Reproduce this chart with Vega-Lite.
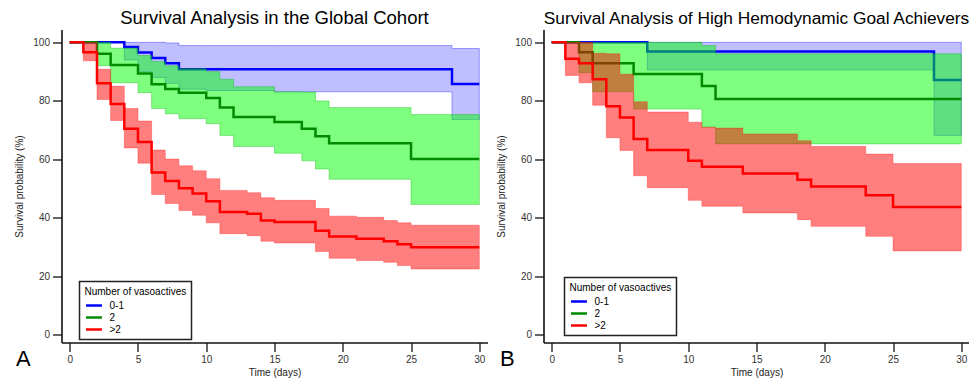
{
  "$schema": "https://vega.github.io/schema/vega-lite/v6.json",
  "padding": {"left": 14.5, "top": 8.5, "right": 0, "bottom": 0},
  "spacing": 9,
  "resolve": {"scale": {"color": "independent"}},
  "config": {
    "font": "Liberation Sans",
    "view": {"stroke": null},
    "axis": {"domainColor": "#111", "domainWidth": 1.6, "tickColor": "#333", "tickWidth": 1.5, "labelColor": "#333", "labelFontSize": 10, "titleFontSize": 10, "titleFontWeight": "normal", "titleColor": "#222", "grid": false, "labelPadding": 3, "labelFlush": false},
    "title": {"fontSize": 18.5, "fontWeight": "normal", "color": "#000", "anchor": "middle", "offset": 2},
    "legend": {"strokeColor": "#222", "strokeWidth": 1.5, "fillColor": "white", "padding": 5, "titleFontSize": 10, "titleFontWeight": "normal", "titleColor": "#000", "labelFontSize": 10, "labelColor": "#000", "rowPadding": 0, "titlePadding": 2, "labelOffset": 11, "symbolSize": 121, "symbolStrokeWidth": 2.5, "symbolOpacity": 1}
  },
  "datasets": {
    "global": [
      {"g": "0-1", "t": 0, "s": 100, "lo": 100, "hi": 100},
      {"g": "0-1", "t": 4, "s": 98.4, "lo": 94, "hi": 100},
      {"g": "0-1", "t": 5, "s": 96.5, "lo": 90, "hi": 100},
      {"g": "0-1", "t": 6, "s": 94.7, "lo": 88, "hi": 100},
      {"g": "0-1", "t": 7, "s": 92.9, "lo": 86, "hi": 99.8},
      {"g": "0-1", "t": 8, "s": 90.8, "lo": 84, "hi": 98.9},
      {"g": "0-1", "t": 10, "s": 90.8, "lo": 83.5, "hi": 98.9},
      {"g": "0-1", "t": 15, "s": 90.8, "lo": 83.1, "hi": 98.9},
      {"g": "0-1", "t": 28, "s": 85.8, "lo": 73.6, "hi": 97.9},
      {"g": "0-1", "t": 30, "s": 85.8, "lo": 73.6, "hi": 97.9},
      {"g": "2", "t": 0, "s": 100, "lo": 100, "hi": 100},
      {"g": "2", "t": 2, "s": 96.1, "lo": 92, "hi": 100},
      {"g": "2", "t": 3, "s": 92.3, "lo": 86.2, "hi": 98},
      {"g": "2", "t": 5, "s": 89.4, "lo": 82.8, "hi": 95.5},
      {"g": "2", "t": 6, "s": 85.7, "lo": 77.4, "hi": 93.5},
      {"g": "2", "t": 7, "s": 84.1, "lo": 75.6, "hi": 92},
      {"g": "2", "t": 8, "s": 82.8, "lo": 73.9, "hi": 91},
      {"g": "2", "t": 10, "s": 81, "lo": 72.2, "hi": 90},
      {"g": "2", "t": 11, "s": 77.7, "lo": 68.2, "hi": 87.4},
      {"g": "2", "t": 12, "s": 74.5, "lo": 64.4, "hi": 84.8},
      {"g": "2", "t": 15, "s": 72.8, "lo": 62.1, "hi": 83.1},
      {"g": "2", "t": 17, "s": 70.5, "lo": 59.5, "hi": 83},
      {"g": "2", "t": 18, "s": 67.9, "lo": 56.7, "hi": 80},
      {"g": "2", "t": 19, "s": 65.5, "lo": 53.2, "hi": 77.7},
      {"g": "2", "t": 25, "s": 60.1, "lo": 44.6, "hi": 75.3},
      {"g": "2", "t": 30, "s": 60.1, "lo": 44.6, "hi": 75.3},
      {"g": ">2", "t": 0, "s": 100, "lo": 100, "hi": 100},
      {"g": ">2", "t": 1, "s": 96.6, "lo": 93.7, "hi": 100},
      {"g": ">2", "t": 2, "s": 86, "lo": 80.5, "hi": 90.8},
      {"g": ">2", "t": 3, "s": 78.9, "lo": 73.3, "hi": 85},
      {"g": ">2", "t": 4, "s": 70.5, "lo": 63.9, "hi": 77.4},
      {"g": ">2", "t": 5, "s": 65.9, "lo": 58.7, "hi": 73.1},
      {"g": ">2", "t": 6, "s": 55.5, "lo": 48, "hi": 63.2},
      {"g": ">2", "t": 7, "s": 52.6, "lo": 44.9, "hi": 60.1},
      {"g": ">2", "t": 8, "s": 50.1, "lo": 42.5, "hi": 57.8},
      {"g": ">2", "t": 9, "s": 48.3, "lo": 40.9, "hi": 56.1},
      {"g": ">2", "t": 10, "s": 45.7, "lo": 38.3, "hi": 53.4},
      {"g": ">2", "t": 11, "s": 42, "lo": 34.6, "hi": 49.4},
      {"g": ">2", "t": 13, "s": 41.4, "lo": 33.9, "hi": 48.6},
      {"g": ">2", "t": 14, "s": 39.1, "lo": 32, "hi": 46.9},
      {"g": ">2", "t": 15, "s": 38.6, "lo": 31.4, "hi": 46},
      {"g": ">2", "t": 18, "s": 35.6, "lo": 28.5, "hi": 43.2},
      {"g": ">2", "t": 19, "s": 33.6, "lo": 26.2, "hi": 40.6},
      {"g": ">2", "t": 21, "s": 32.9, "lo": 25.4, "hi": 40.2},
      {"g": ">2", "t": 23, "s": 32, "lo": 24.8, "hi": 39.1},
      {"g": ">2", "t": 24, "s": 31, "lo": 23.7, "hi": 38.3},
      {"g": ">2", "t": 25, "s": 30, "lo": 22.5, "hi": 37.5},
      {"g": ">2", "t": 30, "s": 30, "lo": 22.5, "hi": 37.5}
    ],
    "hemo": [
      {"g": "0-1", "t": 0, "s": 100, "lo": 100, "hi": 100},
      {"g": "0-1", "t": 7, "s": 96.9, "lo": 90.6, "hi": 100},
      {"g": "0-1", "t": 28, "s": 87.1, "lo": 68.2, "hi": 100},
      {"g": "0-1", "t": 30, "s": 87.1, "lo": 68.2, "hi": 100},
      {"g": "2", "t": 0, "s": 100, "lo": 100, "hi": 100},
      {"g": "2", "t": 2, "s": 96.6, "lo": 89.6, "hi": 100},
      {"g": "2", "t": 3, "s": 92.9, "lo": 83.1, "hi": 100},
      {"g": "2", "t": 6, "s": 89.2, "lo": 77.2, "hi": 100},
      {"g": "2", "t": 11, "s": 85.1, "lo": 71, "hi": 98.9},
      {"g": "2", "t": 12, "s": 80.6, "lo": 65.3, "hi": 96.1},
      {"g": "2", "t": 30, "s": 80.6, "lo": 65.3, "hi": 96.1},
      {"g": ">2", "t": 0, "s": 100, "lo": 100, "hi": 100},
      {"g": ">2", "t": 1, "s": 94.4, "lo": 88.7, "hi": 100},
      {"g": ">2", "t": 2, "s": 92.9, "lo": 86.2, "hi": 100},
      {"g": ">2", "t": 3, "s": 87.4, "lo": 78.5, "hi": 96.3},
      {"g": ">2", "t": 4, "s": 78.2, "lo": 67.4, "hi": 96.1},
      {"g": ">2", "t": 5, "s": 74.3, "lo": 63, "hi": 89.1},
      {"g": ">2", "t": 6, "s": 67, "lo": 54.4, "hi": 79.7},
      {"g": ">2", "t": 7, "s": 63.2, "lo": 50.3, "hi": 76.2},
      {"g": ">2", "t": 10, "s": 59.5, "lo": 46, "hi": 72.7},
      {"g": ">2", "t": 11, "s": 57.5, "lo": 44, "hi": 71},
      {"g": ">2", "t": 12, "s": 57.5, "lo": 44, "hi": 70.7},
      {"g": ">2", "t": 14, "s": 55.2, "lo": 41.7, "hi": 68.7},
      {"g": ">2", "t": 18, "s": 53, "lo": 39.4, "hi": 66.4},
      {"g": ">2", "t": 19, "s": 50.7, "lo": 37.1, "hi": 64.4},
      {"g": ">2", "t": 23, "s": 47.7, "lo": 33.7, "hi": 61.8},
      {"g": ">2", "t": 25, "s": 43.7, "lo": 28.7, "hi": 58.6},
      {"g": ">2", "t": 30, "s": 43.7, "lo": 28.7, "hi": 58.6}
    ]
  },
  "hconcat": [
    {
      "title": {"text": "Survival Analysis in the Global Cohort"},
      "width": 426, "height": 313,
      "data": {"name": "global"},
      "layer": [
        {"transform": [{"filter": "datum.g === '0-1'"}],
         "mark": {"type": "area", "interpolate": "step-after", "fill": "#0000ff", "fillOpacity": 0.25, "stroke": "#0000ff", "strokeOpacity": 0.35, "strokeWidth": 1},
         "encoding": {
           "x": {"field": "t", "type": "quantitative", "scale": {"domain": [-0.6, 30.6], "nice": false, "zero": false}, "axis": {"title": "Time (days)", "titlePadding": 3, "values": [0,2.5,5,7.5,10,12.5,15,17.5,20,22.5,25,27.5,30], "labelExpr": "datum.value % 5 === 0 ? datum.label : ''", "tickSize": {"condition": {"test": "datum.value % 5 !== 0", "value": 4}, "value": 9}}},
           "y": {"field": "lo", "type": "quantitative", "scale": {"domain": [-2.6, 104.4], "nice": false, "zero": false}, "axis": {"title": "Survival probability (%)", "titlePadding": 8, "values": [0,10,20,30,40,50,60,70,80,90,100], "labelExpr": "datum.value % 20 === 0 ? datum.label : ''", "tickSize": {"condition": {"test": "datum.value % 20 !== 0", "value": 4}, "value": 9}}},
           "y2": {"field": "hi"}
         }},
        {"transform": [{"filter": "datum.g === '0-1'"}],
         "mark": {"type": "line", "interpolate": "step-after", "strokeWidth": 2.5},
         "encoding": {
           "x": {"field": "t", "type": "quantitative"},
           "y": {"field": "s", "type": "quantitative", "title": "Survival probability (%)"},
           "color": {"field": "g", "type": "nominal", "scale": {"domain": ["0-1", "2", ">2"], "range": ["#0000ff", "#008a00", "#ff0000"]}, "legend": {"title": "Number of vasoactives", "orient": "none", "legendX": 18, "legendY": 252, "symbolType": "M-1,0H1.9"}}
         }},
        {"transform": [{"filter": "datum.g === '2'"}],
         "mark": {"type": "area", "interpolate": "step-after", "fill": "#00ff00", "fillOpacity": 0.5, "stroke": "#00b000", "strokeOpacity": 0.35, "strokeWidth": 1},
         "encoding": {
           "x": {"field": "t", "type": "quantitative"},
           "y": {"field": "lo", "type": "quantitative", "title": "Survival probability (%)"},
           "y2": {"field": "hi"}
         }},
        {"transform": [{"filter": "datum.g === '2'"}],
         "mark": {"type": "line", "interpolate": "step-after", "strokeWidth": 2.5},
         "encoding": {
           "x": {"field": "t", "type": "quantitative"},
           "y": {"field": "s", "type": "quantitative", "title": "Survival probability (%)"},
           "color": {"field": "g", "type": "nominal"}
         }},
        {"transform": [{"filter": "datum.g === '>2'"}],
         "mark": {"type": "area", "interpolate": "step-after", "fill": "#ff0000", "fillOpacity": 0.5, "stroke": "#ff0000", "strokeOpacity": 0.3, "strokeWidth": 1},
         "encoding": {
           "x": {"field": "t", "type": "quantitative"},
           "y": {"field": "lo", "type": "quantitative", "title": "Survival probability (%)"},
           "y2": {"field": "hi"}
         }},
        {"transform": [{"filter": "datum.g === '>2'"}],
         "mark": {"type": "line", "interpolate": "step-after", "strokeWidth": 2.5},
         "encoding": {
           "x": {"field": "t", "type": "quantitative"},
           "y": {"field": "s", "type": "quantitative", "title": "Survival probability (%)"},
           "color": {"field": "g", "type": "nominal"}
         }},
        {"data": {"values": [{"panel": "A"}]},
         "mark": {"type": "text", "fontSize": 22, "baseline": "alphabetic", "align": "center", "color": "#000"},
         "encoding": {
           "x": {"datum": -3.4, "type": "quantitative"},
           "y": {"datum": -10.8, "type": "quantitative"},
           "text": {"field": "panel"}
         }}
      ]
    },
    {
      "title": {"text": "Survival Analysis of High Hemodynamic Goal Achievers", "fontSize": 17.3},
      "width": 426, "height": 313,
      "data": {"name": "hemo"},
      "layer": [
        {"transform": [{"filter": "datum.g === '0-1'"}],
         "mark": {"type": "area", "interpolate": "step-after", "fill": "#0000ff", "fillOpacity": 0.25, "stroke": "#0000ff", "strokeOpacity": 0.35, "strokeWidth": 1},
         "encoding": {
           "x": {"field": "t", "type": "quantitative", "scale": {"domain": [-0.6, 30.6], "nice": false, "zero": false}, "axis": {"title": "Time (days)", "titlePadding": 3, "values": [0,2.5,5,7.5,10,12.5,15,17.5,20,22.5,25,27.5,30], "labelExpr": "datum.value % 5 === 0 ? datum.label : ''", "tickSize": {"condition": {"test": "datum.value % 5 !== 0", "value": 4}, "value": 9}}},
           "y": {"field": "lo", "type": "quantitative", "scale": {"domain": [-2.6, 104.4], "nice": false, "zero": false}, "axis": {"title": "Survival probability (%)", "titlePadding": 8, "values": [0,10,20,30,40,50,60,70,80,90,100], "labelExpr": "datum.value % 20 === 0 ? datum.label : ''", "tickSize": {"condition": {"test": "datum.value % 20 !== 0", "value": 4}, "value": 9}}},
           "y2": {"field": "hi"}
         }},
        {"transform": [{"filter": "datum.g === '0-1'"}],
         "mark": {"type": "line", "interpolate": "step-after", "strokeWidth": 2.5},
         "encoding": {
           "x": {"field": "t", "type": "quantitative"},
           "y": {"field": "s", "type": "quantitative", "title": "Survival probability (%)"},
           "color": {"field": "g", "type": "nominal", "scale": {"domain": ["0-1", "2", ">2"], "range": ["#0000ff", "#008a00", "#ff0000"]}, "legend": {"title": "Number of vasoactives", "orient": "none", "legendX": 21, "legendY": 248, "symbolType": "M-1,0H1.9"}}
         }},
        {"transform": [{"filter": "datum.g === '2'"}],
         "mark": {"type": "area", "interpolate": "step-after", "fill": "#00ff00", "fillOpacity": 0.5, "stroke": "#00b000", "strokeOpacity": 0.35, "strokeWidth": 1},
         "encoding": {
           "x": {"field": "t", "type": "quantitative"},
           "y": {"field": "lo", "type": "quantitative", "title": "Survival probability (%)"},
           "y2": {"field": "hi"}
         }},
        {"transform": [{"filter": "datum.g === '2'"}],
         "mark": {"type": "line", "interpolate": "step-after", "strokeWidth": 2.5},
         "encoding": {
           "x": {"field": "t", "type": "quantitative"},
           "y": {"field": "s", "type": "quantitative", "title": "Survival probability (%)"},
           "color": {"field": "g", "type": "nominal"}
         }},
        {"transform": [{"filter": "datum.g === '>2'"}],
         "mark": {"type": "area", "interpolate": "step-after", "fill": "#ff0000", "fillOpacity": 0.5, "stroke": "#ff0000", "strokeOpacity": 0.3, "strokeWidth": 1},
         "encoding": {
           "x": {"field": "t", "type": "quantitative"},
           "y": {"field": "lo", "type": "quantitative", "title": "Survival probability (%)"},
           "y2": {"field": "hi"}
         }},
        {"transform": [{"filter": "datum.g === '>2'"}],
         "mark": {"type": "line", "interpolate": "step-after", "strokeWidth": 2.5},
         "encoding": {
           "x": {"field": "t", "type": "quantitative"},
           "y": {"field": "s", "type": "quantitative", "title": "Survival probability (%)"},
           "color": {"field": "g", "type": "nominal"}
         }},
        {"data": {"values": [{"panel": "B"}]},
         "mark": {"type": "text", "fontSize": 22, "baseline": "alphabetic", "align": "center", "color": "#000"},
         "encoding": {
           "x": {"datum": -3.25, "type": "quantitative"},
           "y": {"datum": -10.8, "type": "quantitative"},
           "text": {"field": "panel"}
         }}
      ]
    }
  ]
}
